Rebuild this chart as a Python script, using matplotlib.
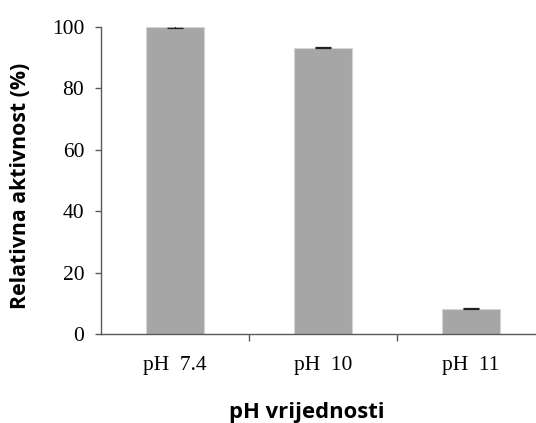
import matplotlib
matplotlib.use("Agg")
import matplotlib.pyplot as plt
import numpy as np

categories = ["pH  7.4", "pH  10", "pH  11"]
values = [100.0, 93.2, 8.2]
errors = [0.2, 0.2, 0.2]
yticks = [0, 20, 40, 60, 80, 100]

W, H = 536, 423
fig = plt.figure(figsize=(W/100, H/100), dpi=100)
left, right, bottom, top = 101, 545, 334, 27
ax = fig.add_axes([left/W, (H-bottom)/H, (right-left)/W, (bottom-top)/H])

x = np.arange(len(categories))
ax.bar(x, values, width=0.39, color="#a6a6a6", edgecolor="#d4d4d4", linewidth=0.8,
       yerr=errors, error_kw=dict(ecolor="#222222", elinewidth=0.8, capsize=6, capthick=0.9))

ax.set_xlim(-0.5, 2.5)
ax.set_ylim(0, 100)
ax.set_yticks(yticks)
ax.set_xticks(x)
ax.set_xticklabels(categories, family="Liberation Serif", fontsize=15.5)
ax.set_yticklabels([str(t) for t in yticks], family="Liberation Serif", fontsize=15.5)
ax.set_xticks([0.5, 1.5], minor=True)
ax.tick_params(axis="x", which="major", length=0, pad=16)
ax.tick_params(axis="x", which="minor", length=5, width=1, color="#595959", direction="out")
ax.tick_params(axis="y", length=4.5, width=1, color="#595959", direction="out", pad=7.5)

for s in ["top", "right"]:
    ax.spines[s].set_visible(False)
for s in ["left", "bottom"]:
    ax.spines[s].set_color("#595959")
    ax.spines[s].set_linewidth(1)

fig.text(307/W, 1-412/H, "pH vrijednosti", family="Open Sans", weight="bold",
         fontsize=15.8, ha="center", va="center")
fig.text(21/W, 1-186/H, "Relativna aktivnost (%)", family="Open Sans", weight="bold",
         fontsize=15.3, ha="center", va="center", rotation=90)

fig.savefig("out.png", dpi=100)
